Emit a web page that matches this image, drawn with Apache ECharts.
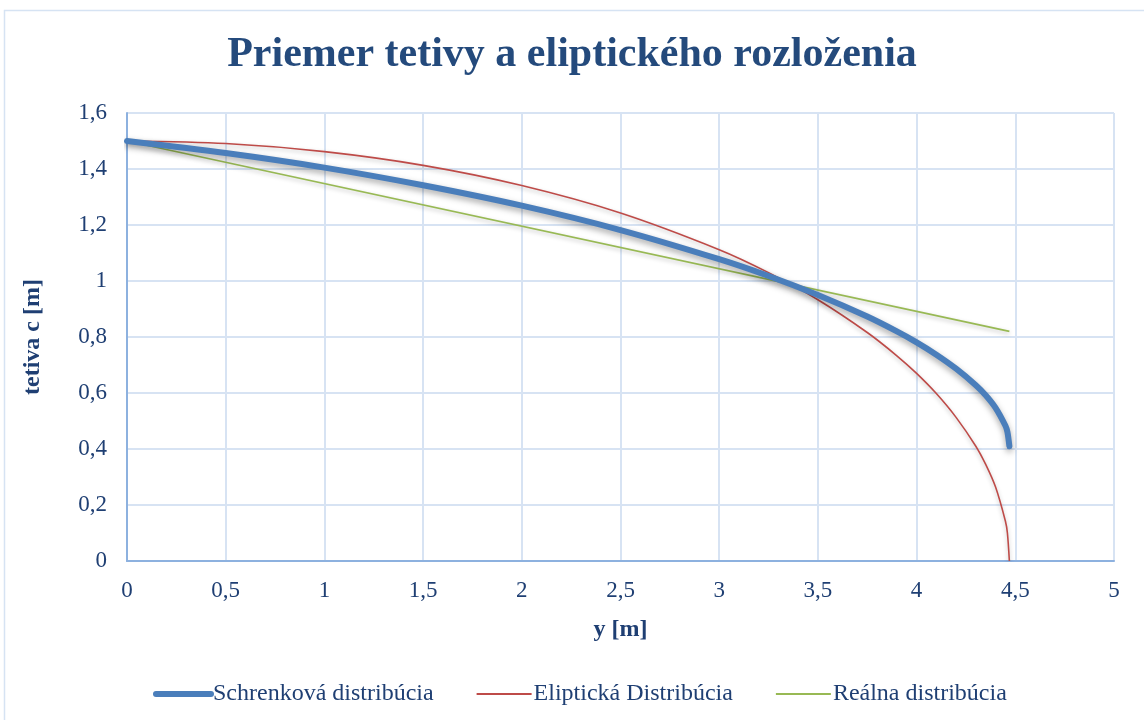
<!DOCTYPE html>
<html>
<head>
<meta charset="utf-8">
<script src="https://cdn.jsdelivr.net/npm/echarts@6/dist/echarts.min.js"></script>
<style>
  html, body { margin: 0; padding: 0; background: #fff; }
  #main { width: 1144px; height: 720px; }
</style>
</head>
<body>
<div id="main"></div>
<script>
// rozpätie y [m]
var spanY = [0, 0.5, 1, 1.5, 2, 2.5, 3, 3.25, 3.5, 3.75, 3.9, 4, 4.1, 4.2, 4.3, 4.35, 4.4, 4.45, 4.46, 4.47];
// tetiva c [m]
var schrenk = [1.5, 1.457, 1.405, 1.342, 1.269, 1.182, 1.078, 1.018, 0.95, 0.873, 0.82, 0.781, 0.737, 0.687, 0.628, 0.592, 0.547, 0.483, 0.461, 0.41];
var elipticka = [1.5, 1.491, 1.462, 1.413, 1.341, 1.243, 1.112, 1.03, 0.933, 0.816, 0.733, 0.67, 0.598, 0.513, 0.41, 0.345, 0.264, 0.142, 0.1, 0];
var realnaY = [0, 4.47];
var realna = [1.5, 0.82];

var names = ['Schrenková distribúcia', 'Eliptická Distribúcia', 'Reálna distribúcia'];

function pairs(xs, ys) {
    return xs.map(function (x, i) { return [x, ys[i]]; });
}
function comma(v) {
    return String(v).replace('.', ',');
}

var font = '"Liberation Serif", "Times New Roman", serif';
var textColor = '#1F3F73';

var myChart = echarts.init(document.getElementById('main'));

var option = {
    backgroundColor: '#fff',
    animation: false,
    title: {
        text: 'Priemer tetivy a eliptického rozloženia',
        left: 'center',
        top: 29,
        textStyle: {
            fontFamily: font,
            fontSize: 42,
            fontWeight: 'bold',
            color: '#244A7C'
        }
    },
    graphic: [{
        type: 'rect',
        shape: { x: 4.5, y: 10.5, width: 1160, height: 760 },
        style: { fill: 'none', stroke: '#D6E3F3', lineWidth: 1.5 },
        silent: true
    }],
    legend: {
        bottom: 9,
        left: 148,
        itemWidth: 55,
        itemHeight: 10,
        itemGap: 42,
        itemStyle: { opacity: 0 },
        data: [
            { name: names[0], lineStyle: { width: 6 } },
            { name: names[1], lineStyle: { width: 2 } },
            { name: names[2], lineStyle: { width: 2 } }
        ],
        textStyle: { fontFamily: font, fontSize: 24, color: textColor, padding: [0, 0, 0, -3] }
    },
    grid: {
        left: 127,
        right: 30,
        top: 113,
        bottom: 159
    },
    xAxis: {
        type: 'value',
        min: 0,
        max: 5,
        interval: 0.5,
        name: 'y [m]',
        nameLocation: 'middle',
        nameGap: 57,
        nameTextStyle: { fontFamily: font, fontSize: 24, fontWeight: 'bold', color: textColor },
        axisLine: { lineStyle: { color: '#8DB1DF', width: 2 } },
        axisTick: { show: false },
        axisLabel: {
            margin: 18,
            fontFamily: font,
            fontSize: 23,
            color: textColor,
            formatter: comma
        },
        splitLine: { lineStyle: { color: '#D7E3F3', width: 2 } }
    },
    yAxis: {
        type: 'value',
        min: 0,
        max: 1.6,
        interval: 0.2,
        name: 'tetiva c [m]',
        nameLocation: 'middle',
        nameGap: 82,
        nameTextStyle: { fontFamily: font, fontSize: 24, fontWeight: 'bold', color: textColor },
        axisLine: { show: true, lineStyle: { color: '#8DB1DF', width: 2 } },
        axisTick: { show: false },
        axisLabel: {
            margin: 20,
            fontFamily: font,
            fontSize: 23,
            color: textColor,
            formatter: function (v) { return comma(Math.round(v * 10) / 10); }
        },
        splitLine: { lineStyle: { color: '#D7E3F3', width: 2 } }
    },
    series: [
        {
            name: names[0],
            type: 'line',
            smooth: 0.3,
            showSymbol: false,
            symbol: 'none',
            data: pairs(spanY, schrenk),
            itemStyle: { color: '#4A7EBB' },
            lineStyle: {
                width: 6,
                color: '#4A7EBB',
                cap: 'round',
                shadowColor: 'rgba(0,0,0,0.35)',
                shadowBlur: 6,
                shadowOffsetY: 3
            },
            z: 3
        },
        {
            name: names[1],
            type: 'line',
            smooth: 0.3,
            showSymbol: false,
            symbol: 'none',
            data: pairs(spanY, elipticka),
            itemStyle: { color: '#BE4B48' },
            lineStyle: {
                width: 1.6,
                color: '#BE4B48',
                shadowColor: 'rgba(0,0,0,0.25)',
                shadowBlur: 4,
                shadowOffsetY: 2
            },
            z: 2
        },
        {
            name: names[2],
            type: 'line',
            showSymbol: false,
            symbol: 'none',
            data: pairs(realnaY, realna),
            itemStyle: { color: '#98B954' },
            lineStyle: {
                width: 1.6,
                color: '#98B954',
                shadowColor: 'rgba(0,0,0,0.25)',
                shadowBlur: 4,
                shadowOffsetY: 2
            },
            z: 2
        }
    ]
};

myChart.setOption(option);
</script>
</body>
</html>
